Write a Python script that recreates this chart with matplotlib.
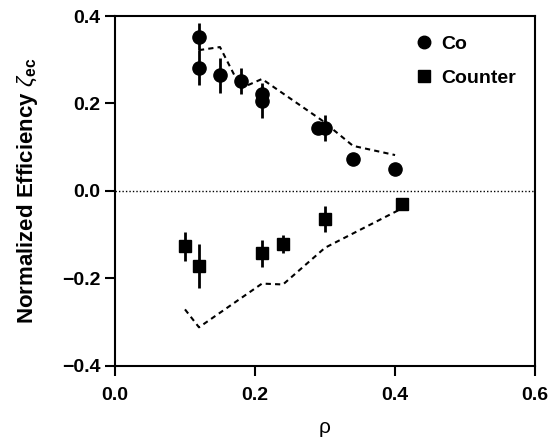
import matplotlib.pyplot as plt
from matplotlib.lines import Line2D

plt.rcParams["font.family"] = ["Liberation Sans", "DejaVu Sans"]
plt.rcParams["mathtext.fontset"] = "custom"
plt.rcParams["mathtext.rm"] = "Liberation Sans"
plt.rcParams["mathtext.it"] = "Liberation Sans:italic"
plt.rcParams["mathtext.bf"] = "Liberation Sans:bold"

# Co data points
co_x = [0.12, 0.12, 0.15, 0.18, 0.21, 0.21, 0.29, 0.30, 0.34, 0.40]
co_y = [0.353, 0.282, 0.265, 0.251, 0.221, 0.206, 0.143, 0.143, 0.073, 0.049]
co_err = [0.03, 0.04, 0.04, 0.03, 0.02, 0.04, 0.0, 0.03, 0.0, 0.0]

# Counter data points
ct_x = [0.10, 0.12, 0.21, 0.24, 0.30, 0.41]
ct_y = [-0.127, -0.172, -0.143, -0.121, -0.064, -0.029]
ct_err = [0.034, 0.05, 0.03, 0.02, 0.03, 0.0]

# model curves (dashed)
co_fit_x = [0.12, 0.15, 0.18, 0.21, 0.295, 0.34, 0.40]
co_fit_y = [0.322, 0.329, 0.235, 0.256, 0.162, 0.103, 0.082]
ct_fit_x = [0.10, 0.12, 0.21, 0.24, 0.30, 0.41]
ct_fit_y = [-0.271, -0.312, -0.212, -0.214, -0.13, -0.04]

fig = plt.figure(figsize=(5.58, 4.45), dpi=100)
ax = fig.add_axes([0.206, 0.178, 0.753, 0.786])

ax.axhline(0, color="black", linestyle=(0, (1, 1.5)), linewidth=1)

ax.plot(co_fit_x, co_fit_y, color="black", linestyle=(0, (2.5, 2)), linewidth=1.5)
ax.plot(ct_fit_x, ct_fit_y, color="black", linestyle=(0, (2.5, 2)), linewidth=1.5)

ax.errorbar(co_x, co_y, yerr=co_err, fmt="o", color="black", markersize=9.5,
            elinewidth=2, capsize=0)
ax.errorbar(ct_x, ct_y, yerr=ct_err, fmt="s", color="black", markersize=9,
            elinewidth=2, capsize=0)

ax.set_xlim(0, 0.6)
ax.set_ylim(-0.4, 0.4)
ax.set_xticks([0.0, 0.2, 0.4, 0.6])
ax.set_yticks([-0.4, -0.2, 0.0, 0.2, 0.4])
ax.set_xticklabels(["0.0", "0.2", "0.4", "0.6"], fontweight="bold", fontsize=14)
ax.set_yticklabels(["\u22120.4", "\u22120.2", "0.0", "0.2", "0.4"], fontweight="bold", fontsize=14)
ax.tick_params(direction="out", length=7, width=1.5)
ax.tick_params(axis="x", pad=8)
for s in ax.spines.values():
    s.set_linewidth(1.5)

ax.set_xlabel("\u03c1", fontsize=15, labelpad=10)
ax.set_ylabel(r"Normalized Efficiency $\zeta_{\mathbf{ec}}$", fontsize=16,
              fontweight="bold", labelpad=16)

handles = [Line2D([], [], marker="o", color="black", linestyle="none", markersize=9),
           Line2D([], [], marker="s", color="black", linestyle="none", markersize=8)]
ax.legend(handles, ["Co", "Counter"], loc="upper right", frameon=False,
          handletextpad=0.35, borderaxespad=0.6, labelspacing=0.85,
          prop={"weight": "bold", "size": 14}, handlelength=1.0)

plt.savefig("out.png", dpi=100)
